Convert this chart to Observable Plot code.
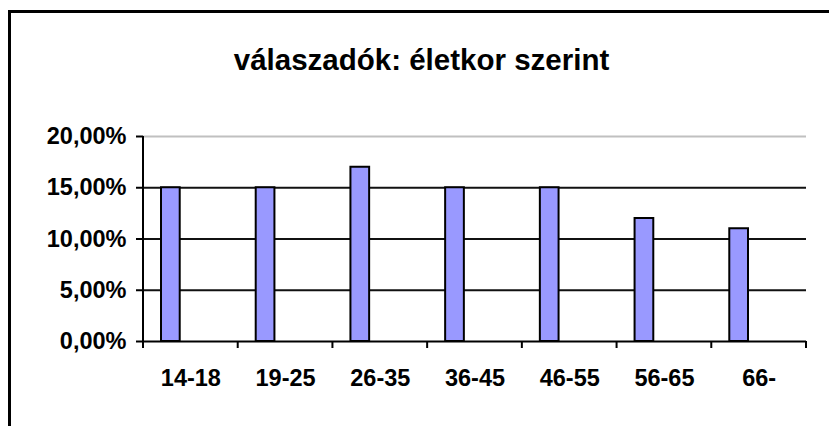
<!DOCTYPE html>
<html>
<head>
<meta charset="utf-8">
<script src="https://cdn.jsdelivr.net/npm/d3@7"></script>
<script src="https://cdn.jsdelivr.net/npm/@observablehq/plot@0.6"></script>
<style>
  html, body { margin: 0; padding: 0; background: #fff; width: 829px; height: 426px; overflow: hidden; }
  #frame { position: absolute; left: 8px; top: 10px; width: 900px; height: 600px; border-left: 3px solid #000; border-top: 3px solid #000; }
  #title { position: absolute; left: 0; width: 843px; top: 43px; line-height: 29px; text-align: center; font: bold 29.5px "Liberation Sans", Arial, sans-serif; color: #000; }
  #chart { position: absolute; left: 0; top: 0; }
</style>
</head>
<body>
<div id="frame"></div>
<div id="title">válaszadók: életkor szerint</div>
<div id="chart"></div>
<script>
const categories = ["14-18", "19-25", "26-35", "36-45", "46-55", "56-65", "66-"];
const values = [15, 15, 17, 15, 15, 12, 11];
const yTicks = [0, 5, 10, 15, 20];
const gridDark = [5, 10, 15];
const gridLight = [20];

const data = categories.map((c, i) => ({category: c, value: values[i]}));
const fmt = d => d.toFixed(2).replace(".", ",") + "%";

const plot = Plot.plot({
  width: 829,
  height: 426,
  marginLeft: 143,
  marginRight: 23,
  marginTop: 136,
  marginBottom: 85,
  style: {fontFamily: '"Liberation Sans", Arial, sans-serif', fontSize: "23.5px", fontWeight: "bold", background: "transparent", color: "#000", overflow: "visible"},
  x: {domain: categories, padding: 0, round: false, axis: null, label: null},
  y: {domain: [0, 20], axis: null, label: null},
  marks: [
    Plot.ruleY(gridLight, {stroke: "#c0c0c0", strokeWidth: 2}),
    Plot.ruleY(gridDark, {stroke: "#111", strokeWidth: 2}),
    Plot.barY(data, {x: "category", y: "value", fill: "#9999ff", stroke: "#000", strokeWidth: 2, insetLeft: 18, insetRight: 58}),
    Plot.ruleY([0], {stroke: "#000", strokeWidth: 2}),
    Plot.axisY({ticks: yTicks, tickSize: 7, tickPadding: 10, tickFormat: fmt, strokeWidth: 2, fontSize: 23.5, fontWeight: "bold", label: null}),
    Plot.axisX({tickSize: 0, tickPadding: 28, fontSize: 23.5, fontWeight: "bold", label: null})
  ]
});

// axis line and category-boundary ticks from the plot's own scales
const xs = plot.scale("x");
const ys = plot.scale("y");
const svg = d3.select(plot);
const g = svg.append("g").attr("stroke", "#000").attr("stroke-width", 2);
const x0 = xs.apply(categories[0]);
const y0 = ys.apply(0);
g.append("line").attr("x1", x0).attr("x2", x0).attr("y1", ys.apply(20)).attr("y2", y0);
const bounds = categories.map(c => xs.apply(c)).concat([xs.apply(categories[categories.length - 1]) + xs.bandwidth]);
bounds.forEach(b => {
  g.append("line").attr("x1", b).attr("x2", b).attr("y1", y0).attr("y2", y0 + 7);
});

document.getElementById("chart").appendChild(plot);
</script>
</body>
</html>
